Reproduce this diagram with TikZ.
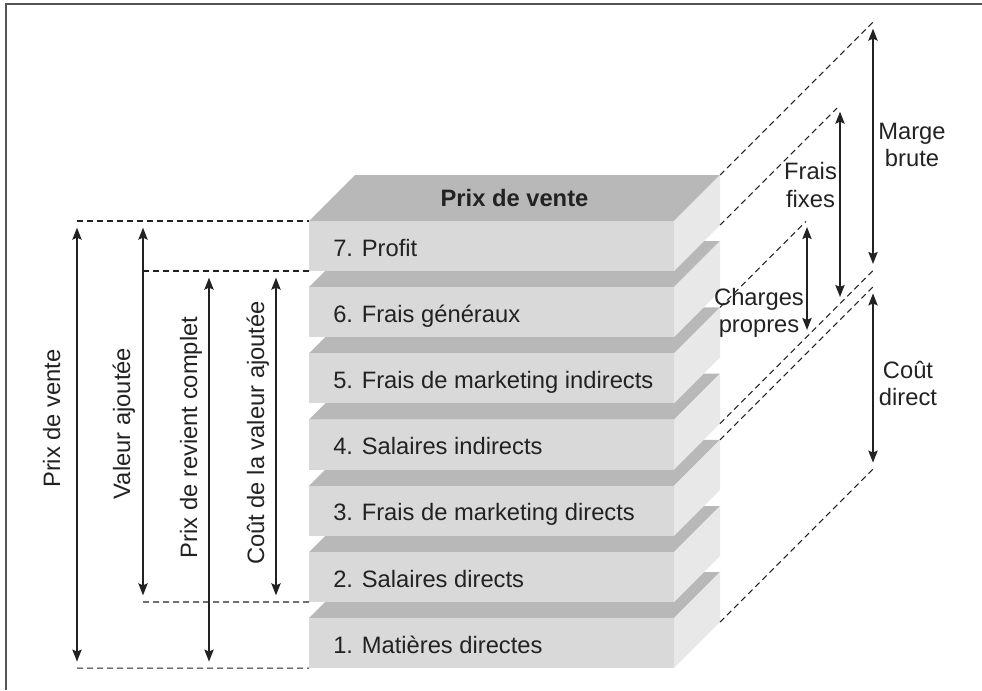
\documentclass[tikz,border=0pt]{standalone}
\usepackage{fontspec}
\setmainfont{Liberation Sans}
\usetikzlibrary{arrows.meta,calc}
\definecolor{topc}{HTML}{B8B8B8}
\definecolor{frontc}{HTML}{D9D9D9}
\definecolor{sidec}{HTML}{E8E8E8}
\definecolor{ink}{HTML}{222222}
\definecolor{framec}{HTML}{555555}
\begin{document}
\begin{tikzpicture}[x=0.75pt,y=-0.75pt,
  every node/.style={font=\fontsize{17.8}{20.3}\selectfont, text=ink, inner sep=0pt},
  guide/.style={draw=ink, line width=0.8pt, dash pattern=on 4.5pt off 3pt},
  dim/.style={draw=ink, line width=1pt,
    {Stealth[length=9pt,width=7pt,inset=1.5pt]}-{Stealth[length=9pt,width=7pt,inset=1.5pt]},
    shorten >=5pt, shorten <=5pt},
  lbl/.style={anchor=base west},
  side/.style={align=center},
  vlab/.style={rotate=90, anchor=base},
]
\useasboundingbox (0,0) rectangle (982,690);
\draw[framec, line width=1.5pt] (6,690) -- (6,4) -- (982,4);

% blocks, bottom to top
\foreach \i/\t in {1/{1. Matières directes},2/{2. Salaires directs},3/{3. Frais de marketing directs},4/{4. Salaires indirects},5/{5. Frais de marketing indirects},6/{6. Frais généraux},7/{7. Profit}}{
  \pgfmathsetmacro\ft{221+(7-\i)*66.2}
  \fill[topc] (309,\ft) -- (355,\ft-46) -- (720,\ft-46) -- (674,\ft) -- cycle;
  \fill[sidec] (674,\ft) -- (720,\ft-46) -- (720,\ft+4) -- (674,\ft+50) -- cycle;
  \fill[frontc] (309,\ft) rectangle (674,\ft+50);
  \coordinate (ftl\i) at (309,\ft);
  \coordinate (fbl\i) at (309,\ft+50);
  \coordinate (btr\i) at (720,\ft-46);
  \coordinate (bbr\i) at (720,\ft+4);
  \node[lbl] (b\i) at (333,\ft+35) {\t};
}
\node[anchor=base, font=\fontsize{17.8}{20.3}\selectfont\bfseries] (pv) at (514.5,206) {Prix de vente};

% left guides
\coordinate (aT) at (77,221);
\coordinate (aB) at (77,671.2);
\coordinate (bT) at (143,221);
\coordinate (bB) at (143,602);
\coordinate (cT) at (209,271);
\coordinate (cB) at (209,671.2);
\coordinate (dT) at (276,271);
\coordinate (dB) at (276,602);
\coordinate (cL) at (143,271);
\coordinate (aB) at (77,668.2);
\coordinate (cB) at (209,668.2);
\draw[guide] (aT) -- (ftl7);
\draw[guide] (cL) -- (fbl7);
\draw[guide] (bB) -- (fbl2);
\draw[guide] (aB) -- (fbl1);

\draw[dim] (aT) -- (aB);
\draw[dim] (bT) -- (bB);
\draw[dim] (cT) -- (cB);
\draw[dim] (dT) -- (dB);

\node[vlab] (lpv) at (60,418.5) {Prix de vente};
\node[vlab] (lva) at (130,423.5) {Valeur ajoutée};
\node[vlab] (lpr) at (197,437.5) {Prix de revient complet};
\node[vlab] (lcv) at (264,433) {Coût de la valeur ajoutée};

% right guides
\draw[guide] (btr7) -- ($(btr7)+(155,-155)$) coordinate (e1);
\draw[guide] (bbr7) -- ($(bbr7)+(117,-117)$) coordinate (e2);
\draw[guide] (btr5) -- ($(btr5)+(86,-86)$) coordinate (e3);
\draw[guide] (bbr4) -- ($(bbr4)+(155,-155)$) coordinate (e4);
\draw[guide] (btr3) -- ($(btr3)+(155,-155)$) coordinate (e5);
\draw[guide] (bbr1) -- ($(bbr1)+(155,-155)$) coordinate (e6);

\coordinate (mbT) at ($(btr7)+(153,-153)$);
\coordinate (mbB) at ($(bbr4)+(153,-153)$);
\coordinate (ffT) at ($(bbr7)+(120,-120)$);
\coordinate (ffB) at ($(bbr4)+(120,-120)$);
\coordinate (cpT) at ($(btr5)+(87,-87)$);
\coordinate (cpB) at ($(bbr4)+(87,-87)$);
\coordinate (cdT) at ($(btr3)+(153,-153)$);
\coordinate (cdB) at ($(bbr1)+(153,-153)$);
\draw[dim] (mbT) -- (mbB);
\draw[dim] (ffT) -- (ffB);
\draw[dim] (cpT) -- (cpB);
\draw[dim] (cdT) -- (cdB);

\node[side] (tmb) at (912,145) {Marge\\brute};
\node[side] (tff) at (810.5,185) {Frais\\fixes};
\node[side] (tcp) at (759,313) {Charges\\propres};
\node[side] (tcd) at (908,383.5) {Coût\\direct};
\end{tikzpicture}
\end{document}
